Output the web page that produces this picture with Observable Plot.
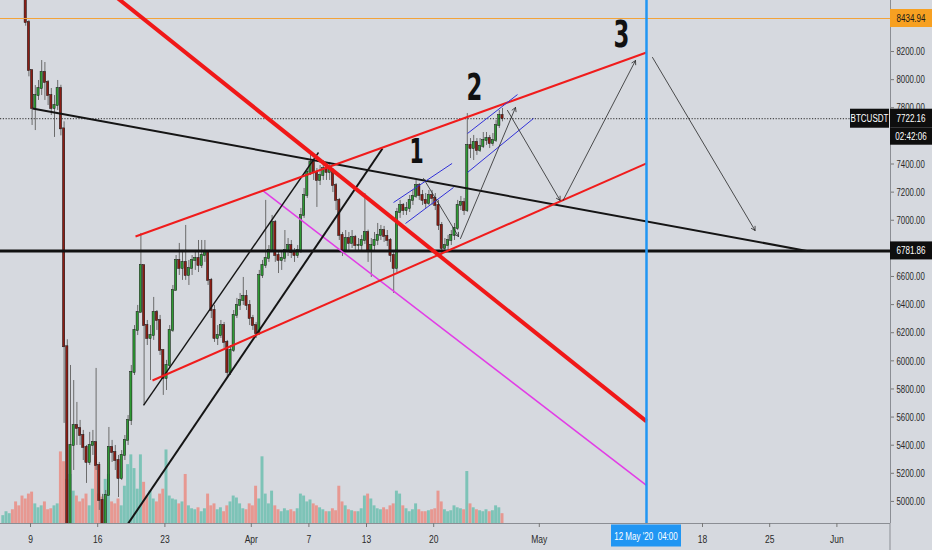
<!DOCTYPE html>
<html><head><meta charset="utf-8">
<script src="https://cdn.jsdelivr.net/npm/d3@7"></script>
<script src="https://cdn.jsdelivr.net/npm/@observablehq/plot@0.6"></script>
<style>
html,body{margin:0;padding:0;background:#d6d9df;}
#chart{width:932px;height:550px;overflow:hidden;}
#chart svg{display:block;}
</style></head>
<body><div id="chart"></div>
<script>
// ---------------- DATA (BTCUSDT, 8-hour candles from 6 Mar 2020 00:00 UTC) ----------------
const candleStart = "2020-03-06T00:00Z";
const candleHours = 8;
const firstOpen = 9000;
const closes = [
 9050,9120,9150, 9100,8950,8900, 8800,8406,8065, 7795,7887,7937, 8051,7980,7887, 7795,7816,7937,
 7650,6100,4700, 5398,5540,5519, 5469,5384,5277, 5398,5419,5256, 5007,4800,5042, 5384,5348,5291,
 5163,5327,5434, 5576,5917,6216, 6344,6678,6251, 6159,6180,6344, 6287,6074,5875, 5967,6216,6500,
 6714,6657,6700, 6607,6657,6714, 6728,6678,6749, 6771,6572,6358, 6159,6180,6251, 6131,5917,6074,
 6323,6394,6429, 6458,6394,6301, 6251,6195,6607, 6678,6728,6785, 6984,6749,6714, 6728,6785,6820,
 6771,6749,6785, 7034,7176,7340, 7411,7340,7283, 7318,7368,7340, 7354,7247,7141, 6892,6785,6870,
 6835,6877,6820, 6820,6856,6913, 6785,6820,6856, 6892,6927,6885, 6856,6749,6657, 7055,7105,7069,
 7084,7141,7169, 7247,7176,7141, 7119,7176,7155, 7105,6963,6799, 6820,6856,6892, 6941,7105,7126,
 7069,7532,7510, 7553,7496,7525, 7567,7581,7546, 7567,7674,7745, 7722.16
];
const highs = [
 9150,9170,9190, 9200,9110,8980, 8920,8810,8420, 8065,7958,7994, 8136,8122,7994, 7937,7887,7994,
 7960,7700,6150, 5967,5860,5704, 5576,5505,5398, 5491,5505,5946, 5277,5050,5078, 5526,5434,5398,
 5327,5362,5469, 5611,5967,6251, 6394,6906,6678, 6287,6251,6451, 6358,6323,6074, 6003,6251,6536,
 6749,6835,6785, 6963,6714,6749, 6785,6856,6856, 6856,6749,6586, 6394,6251,6287, 6273,6145,6109,
 6358,6444,6479, 6593,6500,6429, 6323,6273,6643, 6714,7141,6820, 7034,6998,6785, 6785,6927,6870,
 6856,6799,6820, 7084,7226,7368, 7475,7425,7368, 7389,7425,7411, 7411,7368,7261, 7155,6913,6927,
 6913,6927,6892, 6870,6892,7190, 6930,6870,6913, 6977,6963,6956, 6927,6870,6771, 7084,7141,7119,
 7126,7176,7212, 7283,7261,7212, 7190,7212,7212, 7190,7141,6984, 6870,6892,6927, 6977,7141,7169,
 7155,7759,7581, 7603,7581,7581, 7624,7624,7603, 7617,7709,7781, 7795
];
const lows = [
 9000,9030,9080, 9080,8900,8850, 8700,8380,8020, 7674,7638,7852, 7887,7852,7816, 7745,7589,7781,
 7600,5555,4400, 3900,5220,5398, 5398,5291,5128, 5256,5327,5220, 4936,4450,4700, 5042,5277,5220,
 5028,5149,5291, 5398,5540,5896, 6180,6344,5683, 6109,5860,6145, 6216,6038,5754, 5789,5946,6202,
 6500,6607,6572, 6572,6536,6607, 6643,6628,6657, 6700,6536,6301, 6131,6109,6159, 6088,5875,5896,
 6060,6301,6358, 6394,6358,6251, 6216,6159,6180, 6586,6657,6700, 6771,6700,6621, 6643,6700,6742,
 6728,6700,6728, 6764,7013,7155, 7318,7283,7091, 7247,7283,7283, 7283,7197,7069, 6856,6742,6771,
 6785,6799,6785, 6785,6785,6828, 6700,6593,6785, 6820,6856,6842, 6813,6700,6479, 6628,7013,7034,
 7034,7055,7105, 7155,7141,7105, 7084,7105,7105, 7069,6927,6749, 6771,6785,6820, 6856,6927,7069,
 7034,7055,7439, 7425,7461,7482, 7510,7532,7510, 7525,7553,7653, 7700
];
const volumes = [
 8,12,10, 14,22,18, 28,25,30, 32,20,16, 18,22,14, 15,18,20,
 73,63,45, 50,33,28, 22,25,30, 18,35,68, 30,27,45, 50,22,20,
 25,18,38, 60,70,56, 35,70,42, 28,33,25, 22,30,35, 75,28,25,
 24,20,22, 50,18,15, 14,16,12, 15,30,18, 20,14,16, 12,18,22,
 28,26,20, 15,14,20, 18,38,25, 68,30,20, 33,18,14, 12,15,13,
 14,12,15, 30,28,22, 24,20,18, 16,14,12, 12,15,13, 38,22,18,
 14,13,12, 12,15,28, 30,25,18, 15,14,16, 14,18,20, 33,30,18,
 15,12,14, 20,14,12, 12,13,14, 15,33,22, 14,12,13, 18,16,15,
 14,53,20, 16,14,13, 12,14,12, 13,18,16, 10
];

// axis ticks (6800 and 7600 sit under the price tags, as in the reference)
const priceTicks = [5000,5200,5400,5600,5800,6000,6200,6400,6600,7000,7200,7400,7800,8000,8200];
const dateTickDates = ["2020-03-09","2020-03-16","2020-03-23","2020-04-01","2020-04-07","2020-04-13","2020-04-20","2020-05-01","2020-05-18","2020-05-25","2020-06-01"];
const dateTickLabels = ["9","16","23","Apr","7","13","20","May","18","25","Jun"];

// levels and tags
const highLevel = 8434.94;
const lastPrice = 7722.16;
const supportLevel = 6781.86;
const symbol = "BTCUSDT";
const countdown = "02:42:06";
const markerDate = "2020-05-12T04:00Z";
const markerLabel = "12 May '20  04:00";

// drawings (anchor points in date / price)
const redDownLine = [{x1:"2020-03-17T08:00Z", y1:8620, x2:"2020-05-12T04:00Z", y2:5569}];
const magentaLine = [{x1:"2020-04-02T04:00Z", y1:7212, x2:"2020-05-12T04:00Z", y2:5114}];
const redChannel = [
 {x1:"2020-03-19T22:30Z", y1:6884, x2:"2020-05-12T04:00Z", y2:8193},
 {x1:"2020-03-21T17:00Z", y1:5860, x2:"2020-05-12T04:00Z", y2:7404}
];
const blackTrend = [{x1:"2020-03-09T05:00Z", y1:7795, x2:"2020-05-28T21:00Z", y2:6782}];
const blackRisingA = [{x1:"2020-03-20T18:30Z", y1:5683, x2:"2020-04-08T00:00Z", y2:7482}];
const blackRisingB = [{x1:"2020-03-18T16:30Z", y1:4794, x2:"2020-04-14T16:00Z", y2:7510}];
const blueChannels = [
 {x1:"2020-04-15T19:30Z", y1:7126, x2:"2020-04-21T22:00Z", y2:7404},
 {x1:"2020-04-17T01:30Z", y1:6977, x2:"2020-04-22T01:30Z", y2:7233},
 {x1:"2020-04-23T12:30Z", y1:7617, x2:"2020-04-28T17:30Z", y2:7894},
 {x1:"2020-04-23T12:30Z", y1:7340, x2:"2020-04-30T09:30Z", y2:7724}
];
const pathArrows = [
 {x1:"2020-04-18T22:30Z", y1:7297, x2:"2020-04-22T14:00Z", y2:6884},
 {x1:"2020-04-22T19:00Z", y1:6870, x2:"2020-04-28T12:30Z", y2:7802},
 {x1:"2020-04-27T16:30Z", y1:7781, x2:"2020-05-03T04:00Z", y2:7141},
 {x1:"2020-05-03T11:30Z", y1:7141, x2:"2020-05-11T00:30Z", y2:8136},
 {x1:"2020-05-12T19:00Z", y1:8158, x2:"2020-05-23T11:30Z", y2:6927}
];
const waveLabels = ["1","2","3"];
const waveDates = ["2020-04-18T05:00Z","2020-04-24T06:00Z","2020-05-09T13:30Z"];
const wavePrices = [7482, 7944, 8321];

// ---------------- BUILD ----------------
const HOUR = 3600e3;
const t0 = +new Date(candleStart);
const candles = closes.map((c, i) => {
  const o = i === 0 ? firstOpen : closes[i - 1];
  return {t: t0 + i * candleHours * HOUR, o, c,
    h: Math.max(highs[i], o, c), l: Math.min(lows[i], o, c), v: volumes[i], up: c >= o};
});
const toLinks = arr => arr.map(d => ({x1: new Date(d.x1), y1: d.y1, x2: new Date(d.x2), y2: d.y2}));
const waves = waveLabels.map((s, i) => ({s, x: new Date(waveDates[i]), y: wavePrices[i]}));

const xDomain = [new Date("2020-03-05T21:00Z"), new Date("2020-06-06T14:00Z")];
const yDomain = [4843, 8563];
const volMax = 80, volShare = 0.15;
const volToPrice = v => yDomain[0] + (v / volMax) * volShare * (yDomain[1] - yDomain[0]);
const tickLabelMap = new Map(dateTickDates.map((d, i) => [+new Date(d + "T00:00Z"), dateTickLabels[i]]));

const BG = "#d6d9df";
const UP = "#2f9a34", DOWN = "#8c1d14";
const VUP = "#7dc3b7", VDOWN = "#e79891";
const FONT = "'Liberation Sans', Arial, sans-serif";

const plot = Plot.plot({
  width: 932, height: 550,
  marginLeft: 0, marginRight: 42, marginTop: 0, marginBottom: 27,
  style: {background: BG, fontFamily: FONT, color: "#2a2a2a"},
  x: {type: "utc", domain: xDomain},
  y: {domain: yDomain},
  marks: [
    Plot.rect(candles, {x1: d => new Date(d.t + 0.3 * HOUR), x2: d => new Date(d.t + 7.7 * HOUR),
      y1: () => yDomain[0], y2: d => volToPrice(d.v), fill: d => d.up ? VUP : VDOWN, clip: true}),
    Plot.ruleX(candles, {x: d => new Date(d.t + 4 * HOUR), y1: "l", y2: "h", stroke: "#6c6c6c", strokeWidth: 1, clip: true}),
    Plot.rect(candles, {x1: d => new Date(d.t + 1.2 * HOUR), x2: d => new Date(d.t + 6.8 * HOUR),
      y1: d => Math.min(d.o, d.c), y2: d => Math.max(d.o, d.c), insetTop: -0.5, insetBottom: -0.5,
      fill: d => d.up ? UP : DOWN, stroke: "#151515", strokeWidth: 0.5, clip: true}),
    Plot.ruleY([highLevel], {stroke: "#f2a33a", strokeWidth: 1}),
    Plot.ruleY([lastPrice], {stroke: "#2a2a2a", strokeWidth: 1, strokeDasharray: "1.2,1.6"}),
    Plot.ruleY([supportLevel], {stroke: "#111", strokeWidth: 3}),
    Plot.link(toLinks(blackTrend), {x1: "x1", y1: "y1", x2: "x2", y2: "y2", stroke: "#151515", strokeWidth: 2, clip: true}),
    Plot.link(toLinks(magentaLine), {x1: "x1", y1: "y1", x2: "x2", y2: "y2", stroke: "#e23de6", strokeWidth: 1.5, clip: true}),
    Plot.link(toLinks(blackRisingA), {x1: "x1", y1: "y1", x2: "x2", y2: "y2", stroke: "#151515", strokeWidth: 1.4, clip: true}),
    Plot.link(toLinks(blackRisingB), {x1: "x1", y1: "y1", x2: "x2", y2: "y2", stroke: "#151515", strokeWidth: 2, clip: true}),
    Plot.link(toLinks(redChannel), {x1: "x1", y1: "y1", x2: "x2", y2: "y2", stroke: "#f01c1c", strokeWidth: 2, clip: true}),
    Plot.link(toLinks(blueChannels), {x1: "x1", y1: "y1", x2: "x2", y2: "y2", stroke: "#3232d8", strokeWidth: 1, clip: true}),
    Plot.link(toLinks(redDownLine), {x1: "x1", y1: "y1", x2: "x2", y2: "y2", stroke: "#f01818", strokeWidth: 4, clip: true}),
    Plot.arrow(toLinks(pathArrows), {x1: "x1", y1: "y1", x2: "x2", y2: "y2", stroke: "#262626", strokeWidth: 0.8, headLength: 8, clip: true}),
    Plot.ruleX([new Date(markerDate)], {stroke: "#2196f3", strokeWidth: 2.5}),
    Plot.ruleX([xDomain[1]], {stroke: "#8b8e94", strokeWidth: 1}),
    Plot.ruleY([yDomain[0]], {stroke: "#8b8e94", strokeWidth: 1}),
    Plot.text(waves.slice(0, 1), {x: "x", y: "y", text: "s", fontSize: 34, fontWeight: "bold", fill: "#111",
      fontFamily: "'DejaVu Sans', sans-serif", textAnchor: "middle", lineAnchor: "middle"}),
    Plot.text(waves.slice(1), {x: "x", y: "y", text: "s", fontSize: 38, fontWeight: "bold", fill: "#111",
      fontFamily: "'DejaVu Sans', sans-serif", textAnchor: "middle", lineAnchor: "middle"}),
    Plot.axisX({ticks: dateTickDates.map(d => new Date(d + "T00:00Z")), tickFormat: d => tickLabelMap.get(+d) ?? "",
      tickSize: 4, tickPadding: 7, fontSize: 11.5, stroke: "#777", fill: "#2a2a2a"}),
    Plot.axisY({anchor: "right", ticks: priceTicks, tickFormat: d => d.toFixed(2), tickSize: 3, tickPadding: 3,
      fontSize: 11.5, stroke: "#777", fill: "#2a2a2a"})
  ]
});
document.getElementById("chart").append(plot);

// ---------------- POST: narrow text (horizontal scale about each anchor) + axis tags ----------------
function condense(sel, f) {
  sel.each(function () {
    let x = parseFloat(this.getAttribute("x"));
    if (!isFinite(x)) x = 0;
    const tr = this.getAttribute("transform") || "";
    this.setAttribute("transform", `${tr} translate(${x},0) scale(${f},1) translate(${-x},0)`.trim());
  });
}
const svg = d3.select(plot);
condense(svg.selectAll('g[aria-label="y-axis tick label"] text'), 0.68);
condense(svg.selectAll('g[aria-label="x-axis tick label"] text'), 0.74);
condense(svg.selectAll('g[aria-label="text"] text'), 0.6);

const sx = plot.scale("x"), sy = plot.scale("y");
const X = v => sx.apply(v), Y = v => sy.apply(v);
const axisX0 = X(xDomain[1]);
function tag(xLeft, yc, w, h, bg, fg, txt) {
  const g = svg.append("g");
  g.append("rect").attr("x", xLeft).attr("y", yc - h / 2).attr("width", w).attr("height", h).attr("fill", bg);
  const t = g.append("text").attr("x", xLeft + w / 2).attr("y", yc).attr("text-anchor", "middle")
    .attr("dy", "0.35em").attr("fill", fg).attr("font-size", 11.5)
    .attr("font-family", FONT).text(txt);
  condense(t, 0.7);
}
tag(axisX0, Y(highLevel), 42, 18, "#f7a021", "#1a1a1a", highLevel.toFixed(2));
tag(axisX0 - 40, Y(lastPrice), 39, 19, "#0e0e0e", "#fff", symbol);
tag(axisX0, Y(lastPrice), 42, 19, "#0e0e0e", "#fff", lastPrice.toFixed(2));
tag(axisX0, Y(lastPrice) + 18, 42, 17, "#0e0e0e", "#fff", countdown);
tag(axisX0, Y(supportLevel), 42, 18, "#0e0e0e", "#fff", supportLevel.toFixed(2));
tag(X(new Date(markerDate)) - 35, Y(yDomain[0]) + 12.5, 70, 22, "#2196f3", "#fff", markerLabel);
// right axis line continues into the bottom margin
svg.append("line").attr("x1", axisX0).attr("x2", axisX0).attr("y1", Y(yDomain[0])).attr("y2", 550).attr("stroke", "#8b8e94");
</script>
</body></html>
